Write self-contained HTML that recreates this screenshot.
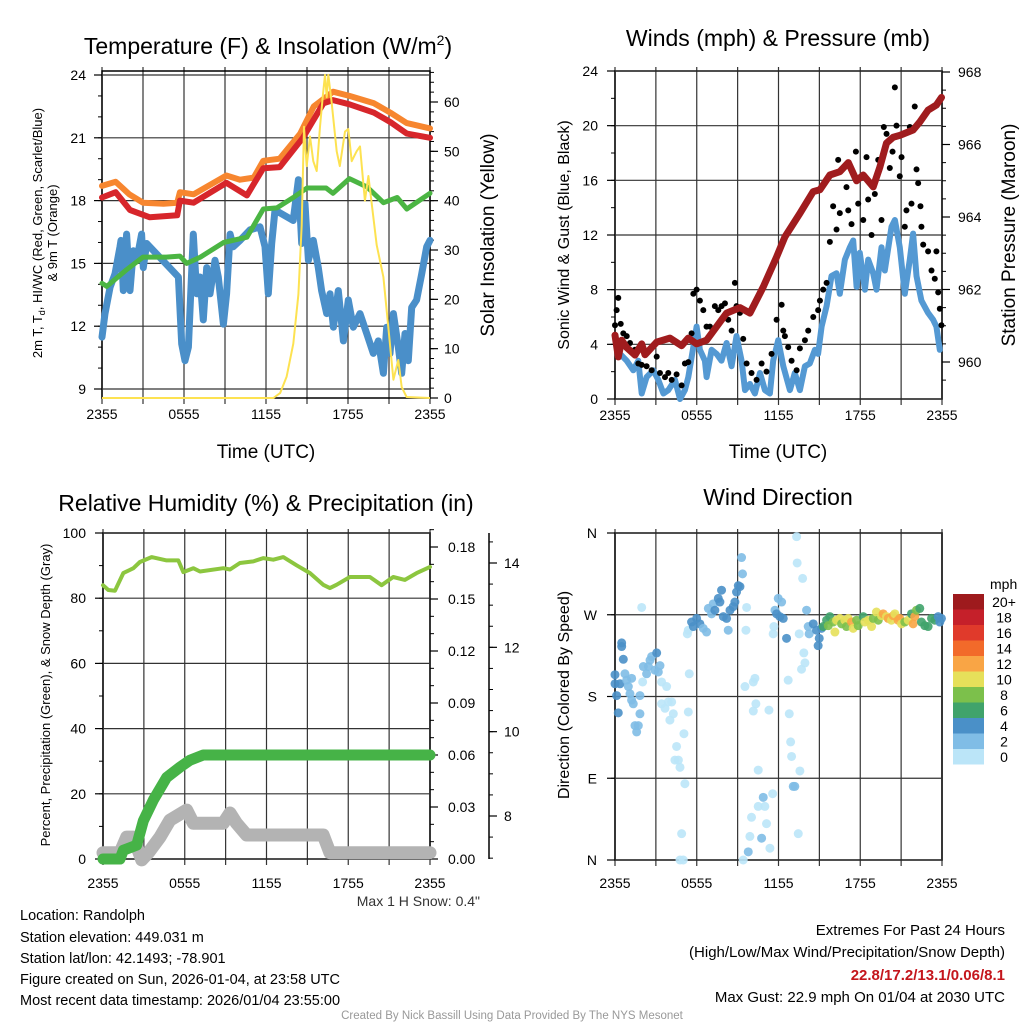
<!DOCTYPE html>
<html><head><meta charset="utf-8">
<style>
html,body{margin:0;padding:0;background:#fff;}
svg{display:block;font-family:"Liberation Sans",Arial,sans-serif;}
</style></head>
<body>
<svg id="chart" width="1024" height="1024" viewBox="0 0 1024 1024">
<rect width="1024" height="1024" fill="#fff"/>
<g id="panels"></g>
<g id="texts">
<text x="268" y="54" font-size="23" text-anchor="middle">Temperature (F) &amp; Insolation (W/m<tspan dy="-9" font-size="14">2</tspan><tspan dy="9">)</tspan></text>
<text x="778" y="46" font-size="23" text-anchor="middle">Winds (mph) &amp; Pressure (mb)</text>
<text x="266" y="511" font-size="23" text-anchor="middle">Relative Humidity (%) &amp; Precipitation (in)</text>
<text x="778" y="505" font-size="23" text-anchor="middle">Wind Direction</text>
<text x="266" y="458" font-size="19" text-anchor="middle">Time (UTC)</text>
<text x="778" y="458" font-size="19" text-anchor="middle">Time (UTC)</text>
<text transform="translate(42,233) rotate(-90)" font-size="13" text-anchor="middle">2m T, T<tspan font-size="9" dy="3">d</tspan><tspan dy="-3">, HI/WC (Red, Green, Scarlet/Blue)</tspan></text>
<text transform="translate(57,233) rotate(-90)" font-size="13" text-anchor="middle">&amp; 9m T (Orange)</text>
<text transform="translate(494,235) rotate(-90)" font-size="19" text-anchor="middle">Solar Insolation (Yellow)</text>
<text transform="translate(569,235) rotate(-90)" font-size="16" text-anchor="middle">Sonic Wind &amp; Gust (Blue, Black)</text>
<text transform="translate(1015,235) rotate(-90)" font-size="19" text-anchor="middle">Station Pressure (Maroon)</text>
<text transform="translate(50,695) rotate(-90)" font-size="13" text-anchor="middle">Percent, Precipitation (Green), &amp; Snow Depth (Gray)</text>
<text transform="translate(569,695) rotate(-90)" font-size="16" text-anchor="middle">Direction (Colored By Speed)</text>
<text x="480" y="906" font-size="14" text-anchor="end" fill="#333">Max 1 H Snow: 0.4"</text>
<g font-size="14.5">
<text x="20" y="920">Location: Randolph</text>
<text x="20" y="942">Station elevation: 449.031 m</text>
<text x="20" y="963">Station lat/lon: 42.1493; -78.901</text>
<text x="20" y="984">Figure created on Sun, 2026-01-04, at 23:58 UTC</text>
<text x="20" y="1005">Most recent data timestamp: 2026/01/04 23:55:00</text>
</g>
<g font-size="15" text-anchor="end">
<text x="1005" y="935">Extremes For Past 24 Hours</text>
<text x="1005" y="957">(High/Low/Max Wind/Precipitation/Snow Depth)</text>
<text x="1005" y="980" fill="#c4161c" font-weight="bold">22.8/17.2/13.1/0.06/8.1</text>
<text x="1005" y="1002">Max Gust: 22.9 mph On 01/04 at 2030 UTC</text>
</g>
<text x="512" y="1019" font-size="11.5" text-anchor="middle" fill="#999">Created By Nick Bassill Using Data Provided By The NYS Mesonet</text>
</g>
</svg>
<script>
// ===== Data: Temperature panel =====
const tempTicks = [9, 12, 15, 18, 21, 24];
const insolTicks = [0, 10, 20, 30, 40, 50, 60];
const timeTickLabels = ["2355", "0555", "1155", "1755", "2355"];
const timeTickHours = [0, 6, 12, 18, 24];
const orangeT = [0,1,2,3,4.5,5.5,5.7,6.7,9.1,10.1,11.1,11.8,13.0,14.5,15.5,16.9,18.1,19.9,21.1,22.3,24];
const orangeV = [18.7,18.9,18.3,17.9,17.85,17.9,18.4,18.3,19.2,19.0,19.1,19.9,20.0,21.2,22.5,23.2,23.0,22.65,22.2,21.7,21.45];
const redT = [0,1,2.05,3.5,5.5,5.7,6.7,9.1,10.6,11.8,13.0,14.7,16.2,16.9,18.1,19.9,21.1,22.3,24];
const redV = [18.15,18.4,17.55,17.2,17.3,18.0,17.9,18.85,18.25,19.55,19.6,21.0,22.65,22.8,22.6,22.2,21.75,21.2,21.0];
const greenT = [0,0.35,1.8,3.0,4.7,5.7,6.2,7.2,8.9,10.6,11.8,12.8,14.0,15.0,16.4,16.9,18.1,19.4,20.6,21.6,22.3,24];
const greenV = [14.05,13.9,14.7,15.3,15.3,15.35,15.0,15.3,16.0,16.25,17.6,17.65,18.15,18.6,18.6,18.35,19.05,18.65,17.9,18.15,17.6,18.35];
const blueT = [0,0.22,0.59,0.95,1.32,1.39,1.56,1.8,2.05,2.29,2.54,2.9,3.02,3.27,5.59,5.83,6.07,6.32,6.68,6.93,7.17,7.41,7.66,7.9,8.27,8.51,8.88,9.12,9.37,9.61,10.1,10.83,11.56,11.93,12.17,12.42,12.66,13.99,14.37,14.61,14.85,15.1,15.46,15.83,16.07,16.44,16.68,16.93,17.29,17.66,18.02,18.39,18.88,19.37,19.85,20.22,20.59,20.83,21.07,21.32,21.68,21.93,22.17,22.41,22.66,23.02,23.39,23.76,24];
const blueV = [11.48,12.6,13.87,14.5,15.8,16.1,13.7,16.4,13.7,15.6,15.15,16.4,14.8,15.95,14.35,11.15,10.35,11.0,16.4,13.55,14.35,12.3,14.8,13.55,15.15,14.35,12.1,13.55,16.4,15.8,16.1,16.6,16.75,15.8,13.55,15.95,17.55,17.05,19.0,15.95,17.85,15.15,16.1,14.8,13.7,12.6,13.55,11.95,13.7,11.3,13.25,11.95,12.6,11.65,10.7,11.3,9.75,11.95,10.7,12.6,11.0,9.75,11.65,10.35,12.9,13.25,14.5,15.8,16.1];
const solarT = [0,12.54,13.03,13.51,14.0,14.37,14.61,14.78,14.98,15.22,15.46,15.71,15.95,16.15,16.32,16.44,16.56,16.8,17.17,17.4,17.78,18.02,18.27,18.63,18.88,19.24,19.49,20.1,20.59,20.95,21.32,21.68,21.93,22.29,24];
const solarV = [0,0,1,4.3,11,21,35,55,47,53,48,46,55,61,65.5,61,65.5,60,50,47,54,54.5,48,50,51,40,45,31,24.5,14.4,3.7,7.7,2.2,0.2,0];

// ===== Data: Winds panel =====
const windTicks = [0, 4, 8, 12, 16, 20, 24];
const pressTicks = [960, 962, 964, 966, 968];
const windT = [0,0.37,0.86,1.34,1.71,1.96,2.32,2.81,3.18,3.55,3.91,4.4,4.77,5.13,5.38,5.75,5.99,6.23,6.6,6.72,7.09,7.46,7.82,8.19,8.56,8.92,9.29,9.54,9.9,10.27,10.64,11.0,11.37,11.61,11.98,12.35,12.84,13.2,13.57,13.94,14.3,14.67,14.91,15.16,15.53,15.89,16.26,16.5,16.87,17.24,17.48,17.73,17.97,18.34,18.58,18.95,19.19,19.56,19.8,20.29,20.54,20.9,21.27,21.64,21.88,22.13,22.49,22.98,23.35,23.59,23.84];
const windV = [4.6,3.3,2.8,2.1,2.8,0.4,1.6,2.1,1.4,0.4,0.65,1.4,0.0,0.65,1.6,3.8,5.3,3.6,2.8,1.6,3.6,3.3,2.8,4.1,2.4,4.6,2.8,0.65,1.1,0.4,1.9,0.65,0.4,2.8,4.3,2.4,0.65,1.9,0.65,2.4,2.6,3.6,3.3,5.3,6.8,9.0,9.2,7.7,10.2,11.1,11.6,8.2,10.7,8.0,10.2,9.2,8.0,11.1,9.4,12.6,13.1,11.1,7.7,10.2,12.1,9.0,7.2,6.3,5.8,5.3,3.6];
const gustT = [0,0.12,0.24,0.42,0.61,0.86,1.1,1.47,1.71,1.96,2.32,2.69,3.06,3.3,3.67,3.91,4.16,4.52,4.89,5.13,5.38,5.62,5.75,5.99,6.23,6.48,6.72,6.97,7.33,7.58,7.82,8.07,8.31,8.56,8.8,8.92,9.17,9.41,9.66,10.02,10.39,10.76,11.12,11.49,11.86,12.23,12.35,12.47,12.71,12.96,13.33,13.57,13.94,14.18,14.55,14.91,15.04,15.28,15.53,15.77,16.01,16.26,16.38,16.5,16.99,17.12,17.36,17.68,17.85,18.22,18.46,18.58,18.83,19.07,19.32,19.56,19.73,19.93,20.17,20.37,20.54,20.66,20.9,21.03,21.27,21.39,21.64,21.76,22.0,22.13,22.25,22.42,22.49,22.62,22.98,23.23,23.47,23.59,23.72,23.84,23.96];
const gustV = [5.4,6.5,7.4,5.5,4.8,4.6,4.1,3.6,2.6,2.5,2.4,2.1,3.1,1.9,1.6,1.9,1.4,1.8,1.0,2.6,2.7,4.8,7.7,8.0,7.2,6.5,5.3,5.3,6.8,6.5,6.8,7.0,5.8,5.0,8.5,6.8,6.3,4.4,2.6,1.9,1.4,2.6,2.0,3.3,5.8,6.9,5.0,4.6,3.8,2.8,2.1,3.7,4.3,5.0,6.0,6.5,7.2,8.0,8.5,11.5,14.1,12.4,17.5,13.6,15.5,13.8,12.8,18.1,14.3,13.1,17.7,14.6,12.0,15.0,17.5,13.1,19.9,19.4,16.9,18.1,22.8,20.0,16.3,17.7,12.6,13.8,19.9,14.3,21.4,16.8,15.8,14.1,12.6,11.3,10.8,9.4,8.8,10.8,7.8,6.6,5.4];
const pressT = [0,0.24,0.49,0.86,1.47,1.96,2.2,3.06,4.03,4.89,5.38,5.99,6.72,8.19,9.17,9.9,10.88,11.86,12.47,13.57,14.55,15.04,15.77,16.5,17.12,17.73,18.22,18.95,19.44,19.93,20.42,20.9,21.88,22.37,22.98,23.59,23.96];
const pressV = [960.74,960.14,960.6,960.4,960.19,960.5,960.2,960.55,960.66,960.45,960.66,960.5,960.6,961.35,961.5,961.35,962.07,962.9,963.45,964.1,964.7,964.75,965.16,965.25,965.5,965.0,965.16,964.83,965.38,966.04,966.2,966.25,966.4,966.62,966.95,967.09,967.3];

// ===== Data: Humidity / precipitation panel =====
const rhTicks = [0, 20, 40, 60, 80, 100];
const precipTicks = [0, 0.03, 0.06, 0.09, 0.12, 0.15, 0.18];
const precipTickLabels = ["0.00","0.03","0.06","0.09","0.12","0.15","0.18"];
const snowTicks = [8, 10, 12, 14];
const rhT = [0,0.39,0.88,1.49,2.23,2.71,3.57,4.67,5.53,5.89,6.63,7.12,8.83,9.32,10.05,11.03,11.76,12.5,13.23,14.21,15.19,16.16,16.65,17.14,18.12,19.59,20.45,21.3,22.16,23.02,24];
const rhV = [84,82.5,82.3,87.7,89.2,91.1,92.6,91.6,91.6,88,89.2,88.2,89.2,88.8,90.8,91.3,92.3,91.8,92.6,90.1,87.7,84.1,83.1,84.1,86.5,86.5,84,86.5,85.6,87.7,89.6];
const precipT = [0,1.25,1.49,2.47,2.96,3.69,4.67,5.65,6.38,7.36,24];
const precipV = [0,0,0.005,0.008,0.022,0.034,0.047,0.053,0.057,0.06,0.06];
const snowT = [0,1.25,1.74,2.23,2.84,3.33,4.18,4.91,6.14,6.63,8.83,9.32,9.8,10.54,16.16,16.65,24];
const snowV = [7.13,7.13,7.5,7.5,6.96,7.13,7.5,7.9,8.14,7.83,7.83,8.07,7.83,7.55,7.55,7.13,7.13];

// ===== Data: Wind direction panel =====
const dirTickLabels = ["N", "E", "S", "W", "N"];
const dirTickDegs = [0, 90, 180, 270, 360];
const speedBins = ["0", "2", "4", "6", "8", "10", "12", "14", "16", "18", "20+"];
const speedColors = ["#bbe5f8","#80bde6","#4a90c8","#40a36b","#7cc04b","#e6e05a","#f9a545","#f26a2a","#e03a2b","#c5202a","#9e1a1d"];
const dirT = [0,0,0.12,0.24,0.37,0.49,0.49,0.61,0.73,0.86,0.98,1.1,1.22,1.22,1.34,1.47,1.59,1.71,1.83,1.83,1.96,2.03,2.08,2.32,2.45,2.57,2.69,2.93,3.06,3.18,3.3,3.42,3.42,3.67,3.79,3.91,4.03,4.16,4.28,4.4,4.52,4.65,4.77,4.89,4.77,5.01,5.06,5.13,5.31,5.38,5.45,5.38,5.62,5.75,5.99,6.23,6.48,6.72,6.85,7.09,7.21,7.33,7.58,7.7,7.82,7.95,8.19,8.31,8.44,8.68,8.8,8.92,9.05,9.17,9.29,9.36,9.66,9.61,9.54,10.15,10.27,10.34,10.15,10.51,9.41,9.78,9.9,10.02,10.51,11.0,10.88,11.12,10.76,11.37,11.57,11.3,11.61,11.66,11.74,11.86,11.98,12.23,12.1,12.35,12.59,12.71,12.79,12.89,12.96,13.08,13.2,13.33,13.37,13.45,13.52,13.57,13.69,13.77,13.86,13.94,14.06,14.18,14.25,14.55,14.79,14.91,14.99,15.16,15.28,15.53,15.65,15.77,16.01,16.14,16.26,16.5,16.63,16.87,16.99,17.12,17.36,17.48,17.73,17.85,18.22,18.34,18.58,18.83,18.95,19.19,19.32,19.56,19.68,19.93,20.05,20.29,20.42,20.54,20.78,20.9,21.03,21.27,21.52,21.76,21.88,22.0,22.13,22.37,22.49,22.74,22.98,23.23,23.47,23.72,23.84,23.96];
const dirV = [204,194,181,162,194,235,239,221,205,198,191,183,176,200,172,148,141,148,161,181,278,196,213,205,213,220,224,209,228,207,214,196,172,167,191,174,154,174,161,110,125,110,102,29,0,0,139,84,249,163,205,253,262,257,266,260,255,251,277,271,282,275,288,284,297,268,266,253,275,279,284,295,302,301,333,315,278,253,191,196,200,172,164,99,0,9,26,47,59,59,69,40,24,13,73,165,249,257,275,271,288,284,268,266,244,198,161,130,114,81,81,356,327,29,249,98,210,310,228,217,275,257,249,260,253,236,244,255,257,264,258,268,262,251,264,266,260,264,257,266,262,255,264,258,268,262,264,257,266,273,264,269,271,268,266,264,269,271,264,266,260,262,264,271,260,268,275,277,262,258,257,266,264,268,262,266];
const dirS = [5,5,5,5,5,4.5,5,4,3,3,3,3,3,3,3,3,3,3,3,2.5,1,1.5,2,3,3,3,3,3,4,3,2,1.5,1,1,1.5,1,1,1,1,1,1,1,1,1,1,1,1,1,1,1,1,1.5,4,4,4,4,3,3,3,3,3,4,4,4,4,4,4,3,4,4,4,5,4,4,3,3,1,1,1,1,1,1,1,1,1,3,1,1,1,1,3,1,3,1,1,1,1,1,3,5,3,3,5,4,4,1,1,1,1,3,3,1,1,1,1,1,1,1,1,1,3,3,3,4,5,4,4,4,7,6,8,7,9,10,11,10,8,11,8,10,12,10,9,8,7,10,11,10,9,10,8,10,13,11,13,10,13,10,13,12,10,8,10,7,12,12,8,7,6,6,7,6,6,5,5,4];

// ===== Rendering =====
const NS = "http://www.w3.org/2000/svg";
const root = document.getElementById("panels");
function mk(tag, attrs, parent) {
  const e = document.createElementNS(NS, tag);
  for (const k in attrs) e.setAttribute(k, attrs[k]);
  (parent || root).appendChild(e);
  return e;
}
function linPath(ts, vs, fx, fy) {
  let d = "";
  for (let i = 0; i < ts.length; i++) d += (i ? "L" : "M") + fx(ts[i]).toFixed(1) + "," + fy(vs[i]).toFixed(1);
  return d;
}
function scale(d0, d1, r0, r1) { return v => r0 + (v - d0) / (d1 - d0) * (r1 - r0); }

function frame(x0, x1, y0, y1, fx, name, labOff) {
  const g = mk("g", {});
  
  
  for (let h = 0; h <= 24; h += 3) {
    const x = fx(h);
    mk("line", {x1: x, x2: x, y1: y0 - 4, y2: y1 + 6, stroke: "#333", "stroke-width": 1.2}, g);
  }
  timeTickHours.forEach((h, i) => {
    const t = mk("text", {x: fx(h), y: y1 + labOff, "font-size": 14, "text-anchor": "middle"}, g);
    t.textContent = timeTickLabels[i];
    
    
  });
  const r = mk("rect", {x: x0, y: y0, width: x1 - x0, height: y1 - y0, fill: "none", stroke: "#000", "stroke-width": 1.5}, g);
  
  
  return g;
}
function yAxis(ticks, labels, fy, xAxis, side, x0, x1, minorStep, min, max, name, hgrid, labelX) {
  const g = mk("g", {});
  
  
  const dir = side === "left" ? -1 : 1;
  for (let v = min; v <= max + 1e-9; v += minorStep) {
    const y = fy(v);
    mk("line", {x1: xAxis, x2: xAxis + dir * 4, y1: y, y2: y, stroke: "#000", "stroke-width": 1}, g);
  }
  ticks.forEach((v, i) => {
    const y = fy(v);
    if (hgrid) mk("line", {x1: x0, x2: x1, y1: y, y2: y, stroke: "#333", "stroke-width": 1.2}, g);
    mk("line", {x1: xAxis, x2: xAxis + dir * 8, y1: y, y2: y, stroke: "#000", "stroke-width": 1.2}, g);
    const t = mk("text", {x: labelX, y: y + 5, "font-size": 14, "text-anchor": side === "left" ? "end" : "start"}, g);
    t.textContent = labels[i];
    
    
  });
}

// ---- Panel 1 ----
(function () {
  const x0 = 102, x1 = 430, y0 = 71, y1 = 398;
  const fx = scale(0, 24, x0, x1);
  const fy = scale(9, 24, 389, 75);
  const fs = scale(0, 60, 398, 102);
  frame(x0, x1, y0, y1, fx, "temperature", 21);
  yAxis(tempTicks, tempTicks.map(String), fy, x0, "left", x0, x1, 1, 9, 24, "temperature-y-axis", true, 86);
  yAxis(insolTicks, insolTicks.map(String), fs, x1, "right", x0, x1, 2, 0, 66, "insolation-y-axis", false, 444);
  const series = [
    [blueT, blueV, "#4a8fc9", 7, "wind-chill-line"],
    [greenT, greenV, "#4bb543", 5, "dewpoint-line"],
    [orangeT, orangeV, "#f7862f", 6, "temp-9m-line"],
    [redT, redV, "#d7262b", 6, "temp-2m-line"]
  ];
  series.forEach(s => {
    const p = mk("path", {d: linPath(s[0], s[1], fx, fy), fill: "none", stroke: s[2], "stroke-width": s[3], "stroke-linejoin": "round", "stroke-linecap": "round"});
    
    
  });
  const y = mk("path", {d: linPath(solarT, solarV, fx, fs), fill: "none", stroke: "#fde251", "stroke-width": 2, "stroke-linejoin": "round"});
  
  
})();

// ---- Panel 2 ----
(function () {
  const x0 = 615, x1 = 942, y0 = 71, y1 = 399;
  const fx = scale(0, 24, x0, x1);
  const fy = scale(0, 24, 399, 71);
  const fp = scale(960, 968, 362, 72);
  frame(x0, x1, y0, y1, fx, "winds", 21);
  yAxis(windTicks, windTicks.map(String), fy, x0, "left", x0, x1, 2, 0, 24, "wind-y-axis", true, 598);
  yAxis(pressTicks, pressTicks.map(String), fp, x1, "right", x0, x1, 0.5, 959.5, 968, "pressure-y-axis", false, 958);
  const w = mk("path", {d: linPath(windT, windV, fx, fy), fill: "none", stroke: "#5499d3", "stroke-width": 6, "stroke-linejoin": "round", "stroke-linecap": "round"});
  
  
  const gg = mk("g", {});
  
  
  gustT.forEach((t, i) => {
    const c = mk("circle", {cx: fx(t), cy: fy(gustV[i]), r: 3, fill: "#000"}, gg);
    
    
  });
  const p = mk("path", {d: linPath(pressT, pressV, fx, fp), fill: "none", stroke: "#a01c1e", "stroke-width": 7, "stroke-linejoin": "round", "stroke-linecap": "round"});
  
  
})();

// ---- Panel 3 ----
(function () {
  const x0 = 103, x1 = 430, y0 = 533, y1 = 859;
  const fx = scale(0, 24, x0, x1);
  const fy = scale(0, 100, 859, 533);
  const fpr = scale(0, 0.18, 859, 547);
  const fsn = scale(8, 14, 816, 563);
  frame(x0, x1, y0, y1, fx, "humidity", 29);
  yAxis(rhTicks, rhTicks.map(String), fy, x0, "left", x0, x1, 10, 0, 100, "humidity-y-axis", true, 86);
  yAxis(precipTicks, precipTickLabels, fpr, x1, "right", x0, x1, 0.01, 0, 0.19, "precip-y-axis", false, 448);
  const sl = mk("line", {x1: 489, x2: 489, y1: 533, y2: 859, stroke: "#000", "stroke-width": 1.5});
  
  
  yAxis(snowTicks, snowTicks.map(String), fsn, 489, "right", x0, x1, 0.5, 7, 14.5, "snow-y-axis", false, 504);
  const s = mk("path", {d: linPath(snowT, snowV, fx, fsn), fill: "none", stroke: "#b3b3b3", "stroke-width": 13, "stroke-linejoin": "round", "stroke-linecap": "round"});
  
  
  const pr = mk("path", {d: linPath(precipT, precipV, fx, fpr), fill: "none", stroke: "#46b347", "stroke-width": 11, "stroke-linejoin": "round", "stroke-linecap": "round"});
  
  
  const rh = mk("path", {d: linPath(rhT, rhV, fx, fy), fill: "none", stroke: "#8cc63f", "stroke-width": 4, "stroke-linejoin": "round", "stroke-linecap": "round"});
  
  
})();

// ---- Panel 4 ----
(function () {
  const x0 = 615, x1 = 942, y0 = 533, y1 = 860;
  const fx = scale(0, 24, x0, x1);
  const fy = scale(0, 360, 860, 533);
  frame(x0, x1, y0, y1, fx, "direction", 28);
  yAxis(dirTickDegs, dirTickLabels, fy, x0, "left", x0, x1, 90, 0, 360, "direction-y-axis", true, 597);
  const g = mk("g", {});
  
  
  dirT.forEach((t, i) => {
    const bin = Math.min(10, Math.max(0, Math.floor(dirS[i] / 2)));
    const c = mk("circle", {cx: fx(t), cy: fy(dirV[i]), r: 4.5, fill: speedColors[bin], opacity: 0.9}, g);
    
    
  });
  const cb = mk("g", {});
  
  
  const t = mk("text", {x: 990, y: 589, "font-size": 14}, cb);
  t.textContent = "mph";
  for (let i = 0; i < speedBins.length; i++) {
    const top = 594 + (10 - i) * 15.5;
    const r = mk("rect", {x: 953, y: top, width: 31, height: 15.5, fill: speedColors[i]}, cb);
    
    
    const l = mk("text", {x: 1004, y: top + 13, "font-size": 14, "text-anchor": "middle"}, cb);
    l.textContent = speedBins[i];
    
    
  }
})();
</script>
</body></html>
